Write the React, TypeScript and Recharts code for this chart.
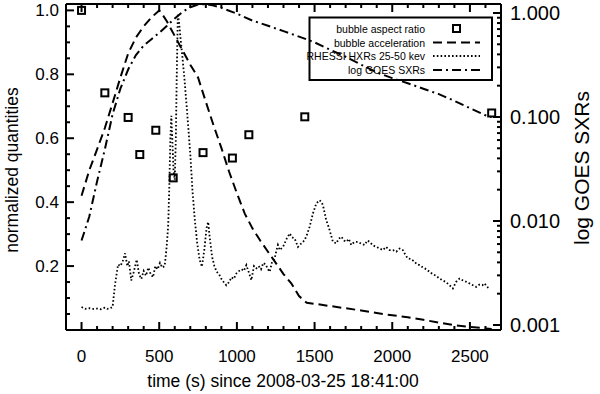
import { ComposedChart, Line, Scatter, XAxis, YAxis, ReferenceLine } from "recharts";

// bubble aspect ratio (squares)
const aspectT = [0, 150, 300, 375, 478, 590, 782, 971, 1077, 1437, 2640];
const aspectV = [1.0, 0.742, 0.665, 0.549, 0.625, 0.476, 0.555, 0.538, 0.611, 0.667, 0.679];

// bubble acceleration (dashed)
const accelT = [0, 50, 100, 150, 200, 250, 300, 350, 400, 450, 500, 525, 550, 600, 650, 700, 750, 800, 850, 900, 950, 1000, 1050, 1100, 1150, 1200, 1250, 1300, 1350, 1400, 1450, 1500, 1600, 1700, 1800, 1900, 2000, 2100, 2200, 2300, 2400, 2500, 2600, 2640];
const accelV = [0.42, 0.5, 0.565, 0.632, 0.71, 0.79, 0.865, 0.915, 0.95, 0.978, 1.0, 0.984, 0.965, 0.92, 0.875, 0.83, 0.79, 0.714, 0.64, 0.57, 0.495, 0.428, 0.365, 0.318, 0.28, 0.245, 0.21, 0.175, 0.146, 0.106, 0.085, 0.082, 0.075, 0.068, 0.061, 0.053, 0.046, 0.04, 0.032, 0.023, 0.015, 0.01, 0.005, 0.003];

// RHESSI HXRs 25-50 kev (dotted)
const hxrT = [0, 25, 50, 75, 100, 125, 150, 165, 180, 200, 215, 235, 250, 265, 280, 295, 305, 320, 335, 355, 370, 385, 400, 415, 430, 445, 460, 475, 490, 505, 520, 535, 548, 558, 565, 572, 578, 584, 592, 600, 607, 613, 620, 628, 640, 660, 680, 700, 715, 730, 745, 760, 775, 790, 805, 815, 825, 840, 855, 870, 885, 900, 915, 932, 950, 965, 980, 997, 1015, 1030, 1045, 1061, 1077, 1093, 1110, 1125, 1140, 1155, 1170, 1185, 1200, 1211, 1225, 1243, 1255, 1264, 1276, 1297, 1320, 1340, 1355, 1372, 1393, 1415, 1436, 1452, 1468, 1490, 1511, 1532, 1545, 1554, 1575, 1597, 1618, 1640, 1655, 1672, 1690, 1704, 1720, 1736, 1755, 1779, 1800, 1822, 1840, 1854, 1875, 1897, 1920, 1940, 1960, 1983, 2005, 2026, 2047, 2068, 2085, 2100, 2120, 2140, 2160, 2176, 2200, 2220, 2240, 2260, 2280, 2304, 2325, 2345, 2369, 2390, 2410, 2433, 2455, 2476, 2500, 2520, 2540, 2560, 2580, 2594, 2610, 2626];
const hxrV = [0.072, 0.066, 0.068, 0.066, 0.067, 0.065, 0.07, 0.066, 0.067, 0.072, 0.14, 0.205, 0.2, 0.215, 0.24, 0.2, 0.215, 0.155, 0.18, 0.22, 0.175, 0.16, 0.185, 0.17, 0.195, 0.175, 0.165, 0.2, 0.19, 0.21, 0.195, 0.2, 0.26, 0.33, 0.45, 0.6, 0.67, 0.6, 0.5, 0.47, 0.6, 0.8, 0.99, 0.96, 0.9, 0.8, 0.68, 0.55, 0.43, 0.34, 0.27, 0.22, 0.198, 0.25, 0.32, 0.338, 0.29, 0.23, 0.2, 0.182, 0.175, 0.16, 0.15, 0.14, 0.15, 0.165, 0.16, 0.177, 0.185, 0.19, 0.185, 0.203, 0.18, 0.156, 0.2, 0.193, 0.2, 0.19, 0.21, 0.205, 0.19, 0.182, 0.21, 0.224, 0.25, 0.266, 0.25, 0.26, 0.285, 0.302, 0.29, 0.286, 0.26, 0.271, 0.281, 0.3, 0.323, 0.365, 0.396, 0.406, 0.4, 0.39, 0.344, 0.3125, 0.276, 0.271, 0.285, 0.292, 0.28, 0.276, 0.285, 0.266, 0.275, 0.276, 0.27, 0.266, 0.28, 0.276, 0.265, 0.26, 0.255, 0.25, 0.26, 0.25, 0.25, 0.245, 0.255, 0.25, 0.235, 0.224, 0.222, 0.215, 0.205, 0.203, 0.195, 0.19, 0.182, 0.175, 0.17, 0.161, 0.155, 0.15, 0.14, 0.13, 0.15, 0.161, 0.155, 0.151, 0.145, 0.14, 0.135, 0.142, 0.14, 0.146, 0.135, 0.13];

// log GOES SXRs (dash-dot), normalized
const goesT = [0, 50, 100, 150, 200, 250, 300, 350, 400, 450, 500, 550, 600, 650, 700, 750, 800, 850, 900, 1000, 1100, 1200, 1300, 1400, 1500, 1600, 1700, 1800, 1900, 2000, 2100, 2200, 2300, 2400, 2500, 2600, 2640];
const goesV = [0.28, 0.355, 0.465, 0.565, 0.675, 0.755, 0.815, 0.86, 0.89, 0.91, 0.93, 0.952, 0.975, 0.995, 1.01, 1.018, 1.02, 1.015, 1.008, 0.99, 0.968, 0.952, 0.935, 0.918, 0.9, 0.877, 0.855, 0.83, 0.806, 0.788, 0.772, 0.755, 0.738, 0.717, 0.694, 0.672, 0.666];

// ticks
const xTicks = [0, 100, 200, 300, 400, 500, 600, 700, 800, 900, 1000, 1100, 1200, 1300, 1400, 1500, 1600, 1700, 1800, 1900, 2000, 2100, 2200, 2300, 2400, 2500, 2600];
const yTicks = [0.05, 0.1, 0.15, 0.2, 0.25, 0.3, 0.35, 0.4, 0.45, 0.5, 0.55, 0.6, 0.65, 0.7, 0.75, 0.8, 0.85, 0.9, 0.95, 1.0];
const logTicks = [0.001, 0.002, 0.003, 0.004, 0.005, 0.006, 0.007, 0.008, 0.009, 0.01, 0.02, 0.03, 0.04, 0.05, 0.06, 0.07, 0.08, 0.09, 0.1, 0.2, 0.3, 0.4, 0.5, 0.6, 0.7, 0.8, 0.9, 1.0];

const X_DOMAIN = [-100, 2700];
const Y_DOMAIN = [0, 1.02];
const LOG_DOMAIN = [0.000895, 1.22];

const zip = (t: number[], v: number[]) => t.map((x, i) => ({ t: x, v: v[i] }));
const aspectData = zip(aspectT, aspectV);
const accelData = zip(accelT, accelV);
const hxrData = zip(hxrT, hxrV);
const goesData = zip(goesT, goesV);

const FONT = "'Liberation Sans', Arial, Helvetica, sans-serif";

// inward tick lengths in data units (plot is 435 x 326 px)
const xPerPx = (X_DOMAIN[1] - X_DOMAIN[0]) / 435;
const yPerPx = (Y_DOMAIN[1] - Y_DOMAIN[0]) / 326;
const isMajorX = (t: number) => t % 500 === 0;
const isMajorY = (v: number) => Math.abs(v * 5 - Math.round(v * 5)) < 1e-6;
const isMajorLog = (v: number) => Math.abs(Math.log10(v) - Math.round(Math.log10(v))) < 1e-6;

const BottomTick = (props: any) => {
  const { x, y, payload } = props;
  if (!isMajorX(payload.value)) return <g />;
  return (
    <text x={x} y={y + 26} textAnchor="middle" dominantBaseline="central" fontSize={17} fontFamily={FONT} fill="#000">
      {payload.value}
    </text>
  );
};

const LeftTick = (props: any) => {
  const { x, y, payload } = props;
  const v = payload.value;
  if (!isMajorY(v)) return <g />;
  return (
    <text x={x - 7} y={y} textAnchor="end" dominantBaseline="central" fontSize={17} fontFamily={FONT} fill="#000">
      {v.toFixed(1)}
    </text>
  );
};

const RightTick = (props: any) => {
  const { x, y, payload } = props;
  const v = payload.value;
  if (!isMajorLog(v)) return <g />;
  return (
    <text x={x + 9} y={y} textAnchor="start" dominantBaseline="central" fontSize={20} fontFamily={FONT} fill="#000">
      {v.toFixed(3)}
    </text>
  );
};

const Square = (props: any) => {
  const { cx, cy } = props;
  return <rect x={cx - 3.5} y={cy - 3.5} width={7} height={7} fill="none" stroke="#000" strokeWidth={2} />;
};

const legendRows = ["bubble aspect ratio", "bubble acceleration", "RHESSI HXRs 25-50 kev", "log GOES SXRs"];
const legendY = [28.5, 42.5, 56, 70];

export default function App() {
  const axisLine = { stroke: "#000", strokeWidth: 2 };
  const tk = { stroke: "#000", strokeWidth: 2, ifOverflow: "visible" as const };
  return (
    <div style={{ position: "absolute", left: 0, top: 0, width: 600, height: 394, background: "#fff" }}>
      <ComposedChart width={600} height={394} margin={{ top: 3, right: 98, bottom: 63, left: 65 }}>
        <XAxis xAxisId="b" dataKey="t" type="number" domain={X_DOMAIN} allowDataOverflow ticks={xTicks} interval={0} height={1} tickSize={0} tickMargin={0} tickLine={false} axisLine={axisLine} tick={<BottomTick />} />
        <XAxis xAxisId="top" orientation="top" dataKey="t" type="number" domain={X_DOMAIN} allowDataOverflow ticks={xTicks} interval={0} height={1} tickSize={0} tickLine={false} axisLine={axisLine} tick={false} />
        <YAxis yAxisId="l" dataKey="v" type="number" domain={Y_DOMAIN} allowDataOverflow ticks={yTicks} interval={0} width={1} tickSize={0} tickMargin={0} tickLine={false} axisLine={axisLine} tick={<LeftTick />} />
        <YAxis yAxisId="r" orientation="right" type="number" scale="log" domain={LOG_DOMAIN} allowDataOverflow ticks={logTicks} interval={0} width={1} tickSize={0} tickMargin={0} tickLine={false} axisLine={axisLine} tick={<RightTick />} />

        {xTicks.map((t) => {
          const len = (isMajorX(t) ? 8 : 4) * yPerPx;
          return <ReferenceLine key={`b${t}`} xAxisId="b" yAxisId="l" segment={[{ x: t, y: Y_DOMAIN[0] }, { x: t, y: Y_DOMAIN[0] + len }]} {...tk} />;
        })}
        {xTicks.map((t) => {
          const len = (isMajorX(t) ? 8 : 4) * yPerPx;
          return <ReferenceLine key={`t${t}`} xAxisId="b" yAxisId="l" segment={[{ x: t, y: Y_DOMAIN[1] }, { x: t, y: Y_DOMAIN[1] - len }]} {...tk} />;
        })}
        {yTicks.map((v) => {
          const len = (isMajorY(v) ? 8 : 4) * xPerPx;
          return <ReferenceLine key={`l${v}`} xAxisId="b" yAxisId="l" segment={[{ x: X_DOMAIN[0], y: v }, { x: X_DOMAIN[0] + len, y: v }]} {...tk} />;
        })}
        {logTicks.map((v) => {
          const len = (isMajorLog(v) ? 8 : 4) * xPerPx;
          return <ReferenceLine key={`r${v}`} xAxisId="b" yAxisId="r" segment={[{ x: X_DOMAIN[1] - len, y: v }, { x: X_DOMAIN[1], y: v }]} {...tk} />;
        })}

        <Line xAxisId="b" yAxisId="l" data={hxrData} dataKey="v" type="linear" stroke="#000" strokeWidth={1.8} strokeDasharray="1.6 2.2" dot={false} isAnimationActive={false} />
        <Line xAxisId="b" yAxisId="l" data={accelData} dataKey="v" type="linear" stroke="#000" strokeWidth={2} strokeDasharray="9 5" dot={false} isAnimationActive={false} />
        <Line xAxisId="b" yAxisId="l" data={goesData} dataKey="v" type="linear" stroke="#000" strokeWidth={2} strokeDasharray="9 4 2 4" dot={false} isAnimationActive={false} />
        <Scatter xAxisId="b" yAxisId="l" data={aspectData} dataKey="v" shape={<Square />} isAnimationActive={false} />
      </ComposedChart>
      <svg width={600} height={394} style={{ position: "absolute", left: 0, top: 0, pointerEvents: "none" }} fontFamily={FONT}>
        <rect x={309.5} y={17.5} width={182.5} height={62.5} fill="none" stroke="#000" strokeWidth={2} />
        {legendRows.map((r, i) => (
          <text key={r} x={425} y={legendY[i]} textAnchor="end" dominantBaseline="central" fontSize={10.5} fill="#000">
            {r}
          </text>
        ))}
        <rect x={453} y={legendY[0] - 3.5} width={7} height={7} fill="none" stroke="#000" strokeWidth={2} />
        <line x1={433} x2={480} y1={legendY[1]} y2={legendY[1]} stroke="#000" strokeWidth={2} strokeDasharray="9 5" />
        <line x1={433} x2={480} y1={legendY[2]} y2={legendY[2]} stroke="#000" strokeWidth={1.8} strokeDasharray="1.6 2.2" />
        <line x1={433} x2={480} y1={legendY[3]} y2={legendY[3]} stroke="#000" strokeWidth={2} strokeDasharray="9 4 2 4" />
        <text x={12} y={170} transform="rotate(-90 12 170)" textAnchor="middle" dominantBaseline="central" fontSize={17.5} fill="#000">
          normalized quantities
        </text>
        <text x={581} y={168} transform="rotate(-90 581 168)" textAnchor="middle" dominantBaseline="central" fontSize={21} fill="#000">
          log GOES SXRs
        </text>
        <text x={283} y={381} textAnchor="middle" dominantBaseline="central" fontSize={17.5} fill="#000">
          time (s) since 2008-03-25 18:41:00
        </text>
      </svg>
    </div>
  );
}
